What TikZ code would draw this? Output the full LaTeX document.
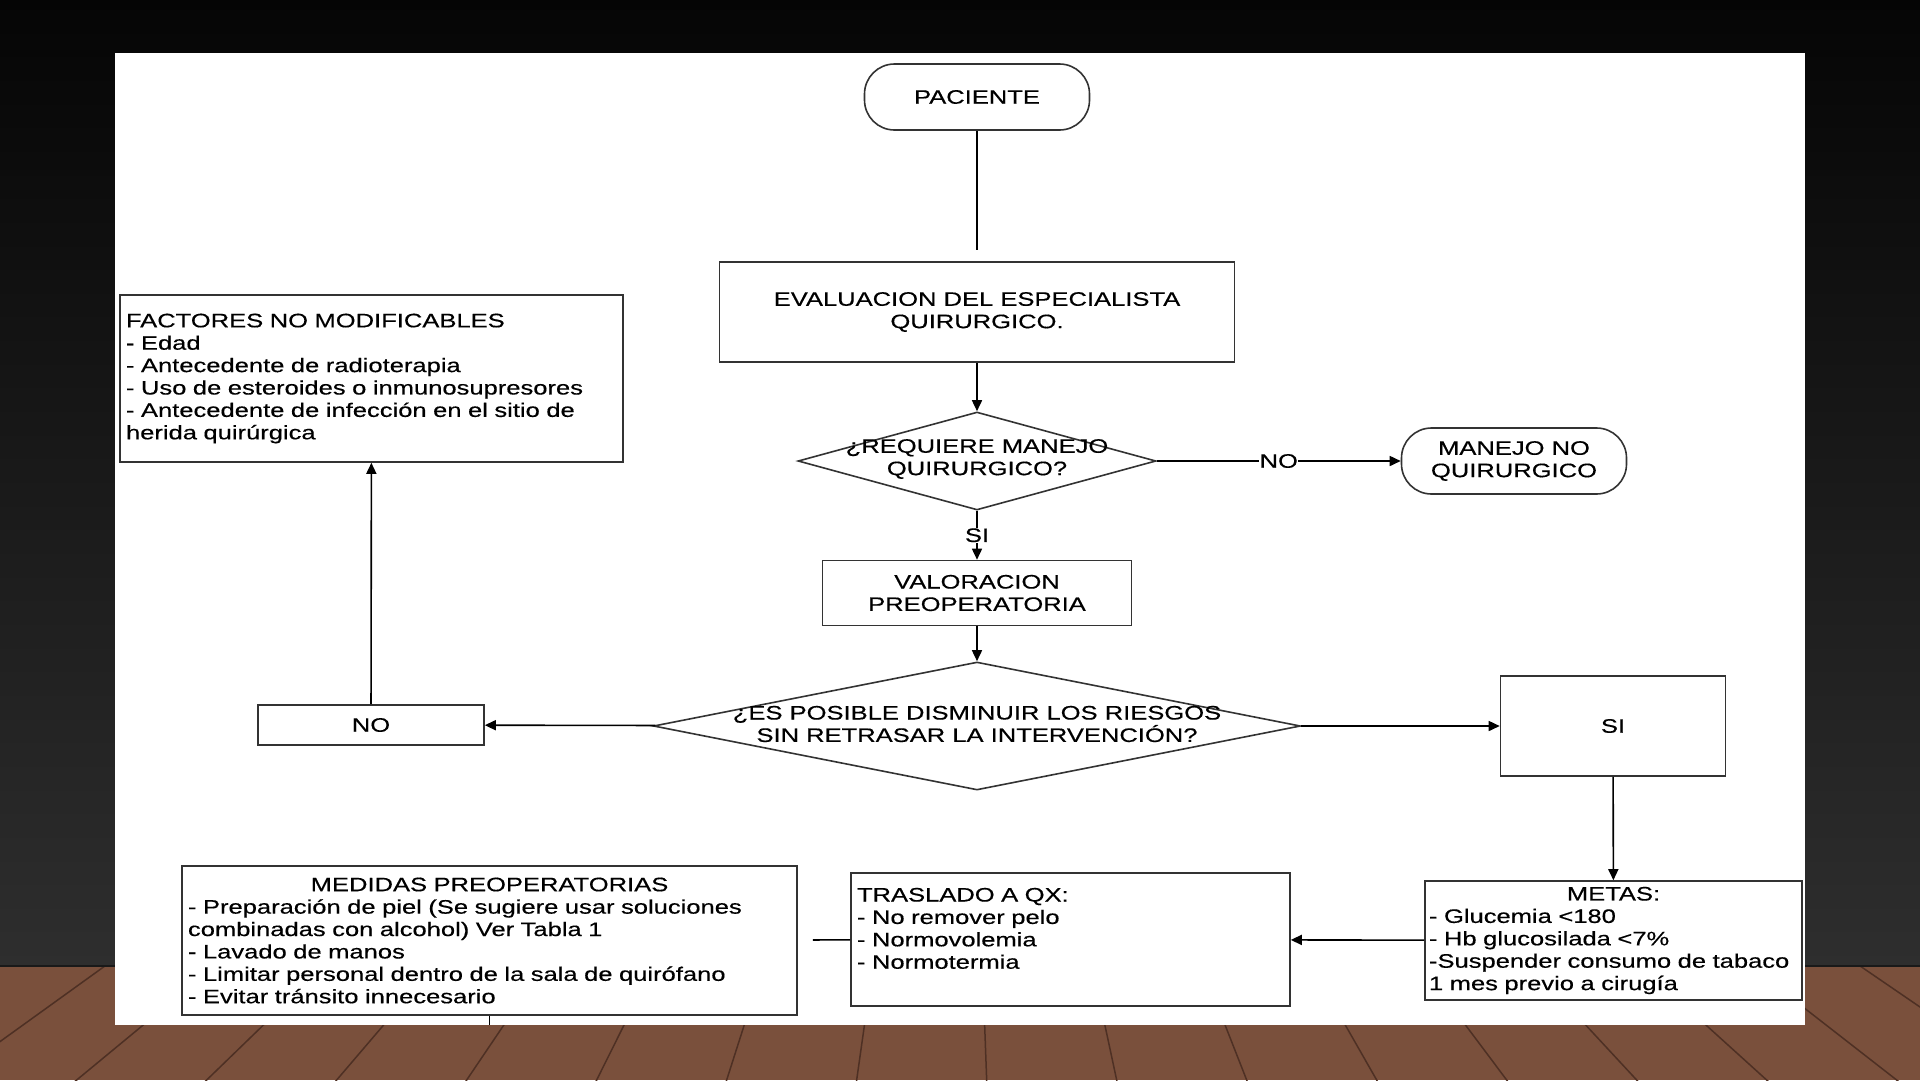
\documentclass[tikz,border=0pt]{standalone}
\usepackage{fontspec}
\setmainfont{Liberation Sans}[FakeStretch=1.31,FakeBold=0.4]
\usetikzlibrary{shapes.geometric,arrows.meta}
\definecolor{madera}{RGB}{122,80,60}
\definecolor{vetas}{RGB}{78,48,36}
\begin{document}
\begin{tikzpicture}[x=1pt,y=-1pt,line width=1.6pt,
  every node/.style={font=\fontsize{19.5}{22.4}\selectfont},
  caja/.style={draw=black!80,fill=white,inner sep=0pt,align=center},
  capsula/.style={caja,rounded corners=30pt},
  rombo/.style={draw=black!80,diamond,inner sep=0pt},
  lista/.style={caja,align=left,inner xsep=6pt},
  flecha/.style={-{Triangle[length=11pt,width=10pt]}},
  etiq/.style={fill=white,inner sep=0.5pt}]
\pgfmathsetmacro{\cx}{977}
\useasboundingbox(0,0)rectangle(1920,1080);
% fondo
\shade[top color=black!98,bottom color=black!82](0,0)rectangle(1920,965);
\fill[madera](0,965)rectangle(1920,1080);
\begin{scope}
\clip(0,965)rectangle(1920,1080);
\foreach \i in {-14,...,14}
  \draw[vetas,line width=1.5pt](960,350)--++(\i*390+80,2190);
\draw[black!90,line width=3pt](0,965)--(1920,965);
\end{scope}
\fill[white](115,53)rectangle(1805,1025);
%
\node[capsula,minimum width=225pt,minimum height=66pt](pac)at(\cx,97){PACIENTE};
\node[caja,minimum width=515pt,minimum height=100pt](eval)at(\cx,312){EVALUACION DEL ESPECIALISTA\\QUIRURGICO.};
\node[rombo,minimum width=358pt,minimum height=98pt](req)at(\cx,461){};
\node[align=center](reqtxt)at(\cx,459){¿REQUIERE MANEJO\\QUIRURGICO?};
\node[capsula,minimum width=225pt,minimum height=66pt](nq)at(1514,461){MANEJO NO\\QUIRURGICO};
\node[caja,minimum width=309pt,minimum height=65pt](val)at(\cx,593){VALORACION\\PREOPERATORIA};
\node[rombo,minimum width=647pt,minimum height=128pt](ries)at(\cx,726){};
\node[align=center](riestxt)at(\cx,724){¿ES POSIBLE DISMINUIR LOS RIESGOS\\SIN RETRASAR LA INTERVENCIÓN?};
\node[caja,minimum width=226pt,minimum height=40pt](no)at(371,725){NO};
\node[caja,minimum width=225pt,minimum height=100pt](si)at(1613,726){SI};
\node[lista,text width=491pt,minimum height=167pt](fact)at(371.5,378.5){FACTORES NO MODIFICABLES\\- Edad\\- Antecedente de radioterapia\\- Uso de esteroides o inmunosupresores\\- Antecedente de infección en el sitio de\\herida quirúrgica};
\node[lista,inner xsep=4pt,text width=369pt,minimum height=119pt](metas)at(1613.5,940.5){\makebox[\linewidth]{METAS:}\\- Glucemia <180\\- Hb glucosilada <7\%\\-Suspender consumo de tabaco\\1 mes previo a cirugía};
\node[lista,text width=427pt,minimum height=133pt](tras)at(1070.5,939.5){TRASLADO A QX:\\- No remover pelo\\- Normovolemia\\- Normotermia\\\mbox{}};
\node[lista,text width=603pt,minimum height=149pt](med)at(489.5,940.5){\makebox[\linewidth]{MEDIDAS PREOPERATORIAS}\\- Preparación de piel (Se sugiere usar soluciones\\combinadas con alcohol) Ver Tabla 1\\- Lavado de manos\\- Limitar personal dentro de la sala de quirófano\\- Evitar tránsito innecesario};
\coordinate(corte)at(489.5,1025);
%
\draw[shorten >=11pt](pac)--(eval);
\draw[flecha](eval)--(req);
\draw[flecha](req)--(nq)node[etiq,midway]{NO};
\draw[flecha](req)--(val)node[etiq,midway]{SI};
\draw[flecha](val)--(ries);
\draw[flecha](ries)--(no);
\draw[flecha](no)--(fact);
\draw[flecha](ries)--(si);
\draw[flecha](si)--(metas);
\draw[flecha](metas)--(tras);
\draw[shorten >=15pt](tras)--(med);
\draw(med)--(corte);
\end{tikzpicture}
\end{document}
